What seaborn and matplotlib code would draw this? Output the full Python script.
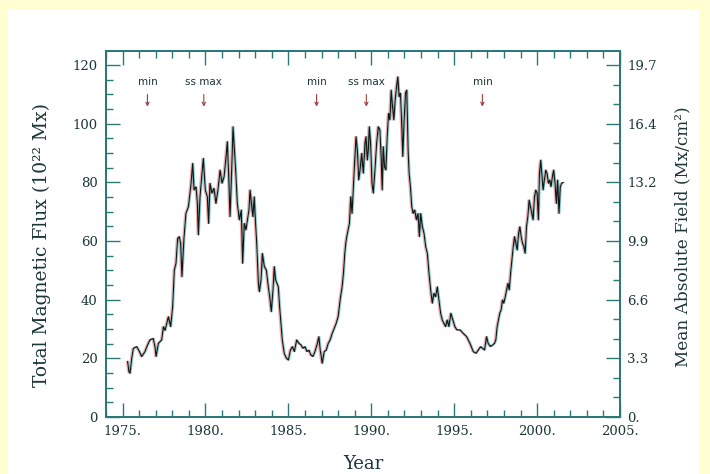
import matplotlib
matplotlib.use("Agg")
import matplotlib.pyplot as plt
import matplotlib.patheffects as pe
from matplotlib.patches import Rectangle
from matplotlib.ticker import MultipleLocator, FixedLocator
import pandas as pd
import seaborn as sns

# Total unsigned photospheric flux, 1975-2001 (units of 1e22 Mx)
years = [
    1975.30, 1975.38, 1975.45, 1975.55, 1975.65, 1975.85, 1976.00, 1976.15, 1976.35, 1976.50,
    1976.65, 1976.85, 1976.95, 1977.02, 1977.16, 1977.36, 1977.46, 1977.56, 1977.66, 1977.76,
    1977.90, 1978.02, 1978.12, 1978.22, 1978.32, 1978.42, 1978.50, 1978.58, 1978.70, 1978.82,
    1978.97, 1979.11, 1979.23, 1979.31, 1979.43, 1979.51, 1979.57, 1979.67, 1979.77, 1979.87,
    1979.99, 1980.11, 1980.19, 1980.27, 1980.39, 1980.51, 1980.63, 1980.75, 1980.88, 1981.00,
    1981.12, 1981.24, 1981.32, 1981.40, 1981.48, 1981.56, 1981.66, 1981.76, 1981.84, 1981.92,
    1982.04, 1982.16, 1982.24, 1982.34, 1982.44, 1982.62, 1982.69, 1982.77, 1982.86, 1982.94,
    1983.02, 1983.09, 1983.19, 1983.25, 1983.35, 1983.43, 1983.55, 1983.67, 1983.79, 1983.87,
    1983.97, 1984.07, 1984.15, 1984.23, 1984.31, 1984.39, 1984.47, 1984.55, 1984.63, 1984.75,
    1984.88, 1985.00, 1985.12, 1985.24, 1985.36, 1985.50, 1985.64, 1985.76, 1985.88, 1986.00,
    1986.12, 1986.24, 1986.36, 1986.48, 1986.60, 1986.72, 1986.84, 1986.92, 1987.04, 1987.16,
    1987.28, 1987.40, 1987.52, 1987.64, 1987.76, 1987.88, 1988.00, 1988.12, 1988.24, 1988.32,
    1988.40, 1988.46, 1988.52, 1988.60, 1988.68, 1988.76, 1988.84, 1988.92, 1989.00, 1989.08,
    1989.16, 1989.24, 1989.32, 1989.42, 1989.52, 1989.62, 1989.68, 1989.76, 1989.82, 1989.88,
    1989.96, 1990.04, 1990.12, 1990.22, 1990.32, 1990.42, 1990.52, 1990.60, 1990.66, 1990.72,
    1990.80, 1990.88, 1990.96, 1991.04, 1991.12, 1991.20, 1991.28, 1991.36, 1991.44, 1991.52,
    1991.60, 1991.68, 1991.76, 1991.84, 1991.90, 1991.98, 1992.06, 1992.14, 1992.22, 1992.28,
    1992.36, 1992.44, 1992.52, 1992.62, 1992.72, 1992.82, 1992.90, 1992.98, 1993.08, 1993.18,
    1993.28, 1993.38, 1993.48, 1993.58, 1993.68, 1993.78, 1993.88, 1993.98, 1994.08, 1994.18,
    1994.28, 1994.38, 1994.48, 1994.58, 1994.68, 1994.80, 1994.92, 1995.04, 1995.16, 1995.35,
    1995.55, 1995.75, 1995.95, 1996.15, 1996.31, 1996.45, 1996.59, 1996.71, 1996.83, 1996.95,
    1997.05, 1997.19, 1997.31, 1997.43, 1997.51, 1997.59, 1997.67, 1997.75, 1997.83, 1997.91,
    1997.99, 1998.08, 1998.16, 1998.24, 1998.32, 1998.40, 1998.48, 1998.56, 1998.64, 1998.72,
    1998.80, 1998.88, 1998.96, 1999.04, 1999.12, 1999.20, 1999.28, 1999.36, 1999.44, 1999.52,
    1999.60, 1999.68, 1999.76, 1999.84, 1999.92, 2000.00, 2000.08, 2000.14, 2000.22, 2000.30,
    2000.36, 2000.44, 2000.52, 2000.60, 2000.68, 2000.76, 2000.84, 2000.92, 2001.00, 2001.08,
    2001.16, 2001.24, 2001.32, 2001.40, 2001.48, 2001.58,
]
flux = [
    19.0, 15.5, 14.9, 20.0, 23.4, 24.0, 22.5, 20.6, 22.3, 24.5,
    26.3, 26.8, 24.0, 20.6, 25.1, 26.3, 30.8, 29.5, 31.9, 34.2,
    30.8, 37.6, 50.1, 52.4, 60.9, 61.5, 59.2, 47.8, 60.9, 69.4,
    71.7, 78.5, 86.5, 77.4, 78.5, 72.8, 62.1, 75.1, 81.9, 88.2,
    77.4, 75.1, 66.0, 79.7, 76.3, 78.0, 72.8, 77.4, 84.2, 79.7,
    81.9, 88.8, 93.9, 81.9, 68.3, 80.8, 99.0, 89.9, 81.9, 72.8,
    67.2, 70.6, 52.4, 66.0, 63.8, 70.6, 77.4, 72.8, 68.3, 75.1,
    66.0, 59.2, 45.6, 42.7, 46.7, 55.8, 51.3, 50.1, 44.4, 41.0,
    35.9, 43.3, 51.3, 46.7, 45.6, 44.4, 37.6, 31.9, 26.3, 21.7,
    20.0, 19.4, 22.8, 24.0, 22.3, 26.3, 25.1, 24.6, 23.4, 24.0,
    22.3, 22.8, 21.1, 20.6, 22.3, 24.6, 27.4, 22.8, 18.3, 22.3,
    22.8, 25.1, 26.3, 28.5, 30.2, 31.9, 34.2, 39.9, 44.4, 49.0,
    55.8, 59.2, 61.5, 63.8, 66.0, 75.1, 69.4, 78.5, 87.6, 95.6,
    91.0, 80.8, 84.2, 89.9, 83.1, 93.3, 95.6, 87.6, 91.0, 99.0,
    93.3, 79.7, 76.3, 84.2, 93.3, 99.0, 97.9, 87.6, 77.4, 92.2,
    85.3, 84.2, 95.6, 103.5, 101.3, 111.5, 105.8, 101.3, 108.1, 112.6,
    116.0, 109.2, 110.4, 99.0, 88.8, 101.3, 110.4, 111.5, 91.0, 83.1,
    78.5, 71.7, 69.4, 70.6, 67.2, 69.4, 61.5, 69.4, 64.9, 62.6,
    58.1, 55.8, 49.0, 43.3, 38.8, 42.2, 41.0, 44.4, 39.9, 35.4,
    33.1, 31.9, 30.8, 33.1, 30.8, 35.4, 33.1, 30.8, 29.7, 29.7,
    28.5, 27.4, 25.1, 22.3, 21.7, 22.8, 24.0, 23.4, 22.8, 27.4,
    25.1, 24.0, 24.5, 25.1, 26.3, 30.8, 33.1, 35.4, 36.5, 39.9,
    38.8, 41.0, 43.3, 45.6, 43.3, 49.0, 53.5, 58.1, 61.5, 59.2,
    56.9, 62.6, 64.9, 61.5, 59.2, 58.1, 55.8, 64.9, 68.3, 74.0,
    71.7, 69.4, 67.2, 75.1, 77.4, 76.3, 67.2, 83.1, 87.6, 81.9,
    77.4, 80.8, 84.2, 83.1, 79.7, 80.8, 78.5, 81.9, 84.2, 79.7,
    72.8, 80.8, 69.4, 78.5, 79.7, 80.0,
]

# Solar-cycle markers
event_years = [1976.5, 1979.9, 1986.7, 1989.7, 1996.7]
event_labels = ["min", "ss max", "min", "ss max", "min"]

# Axis ticks and labels
year_ticks = [1975, 1980, 1985, 1990, 1995, 2000, 2005]
year_labels = ["1975.", "1980.", "1985.", "1990.", "1995.", "2000.", "2005."]
flux_ticks = [0, 20, 40, 60, 80, 100, 120]
flux_labels = ["0", "20", "40", "60", "80", "100", "120"]
field_labels = ["0.", "3.3", "6.6", "9.9", "13.2", "16.4", "19.7"]
FIELD_PER_FLUX = 0.1645  # mean field (Mx/cm^2) per 1e22 Mx of total flux

df = pd.DataFrame({"Year": years, "Flux": flux})

sns.set_style("ticks")
plt.rcParams["font.family"] = ["DejaVu Serif"]

INK = "#1c3535"
FRAME = "#2c7777"

fig = plt.figure(figsize=(7.1, 4.74), dpi=100, facecolor="#ffffd2")
fig.patches.append(Rectangle((8 / 710, 0), 691 / 710, 464 / 474,
                             transform=fig.transFigure, facecolor="white",
                             edgecolor="none", zorder=-10))

ax = fig.add_axes([106 / 710, 57 / 474, 514 / 710, 366 / 474])
ax.set_facecolor("white")

fringe = [
    pe.SimpleLineShadow(offset=(-0.9, 0), shadow_color="#e04848", alpha=0.45),
    pe.SimpleLineShadow(offset=(0.7, 0), shadow_color="#1aa0a0", alpha=0.5),
    pe.Normal(),
]
sns.lineplot(data=df, x="Year", y="Flux", ax=ax, color="#101818",
             linewidth=0.85, estimator=None, sort=False, legend=False)
for ln in ax.lines:
    ln.set_path_effects(fringe)

YMAX = 124.8
ax.set_xlim(1974, 2005)
ax.set_ylim(0, YMAX)
ax.set_xlabel("")
ax.set_ylabel("")

ax.xaxis.set_major_locator(FixedLocator(year_ticks))
ax.set_xticklabels(year_labels)
ax.xaxis.set_minor_locator(MultipleLocator(1))
ax.yaxis.set_major_locator(FixedLocator(flux_ticks))
ax.set_yticklabels(flux_labels)
ax.yaxis.set_minor_locator(MultipleLocator(5))

ax.tick_params(axis="x", which="both", direction="in", top=True, bottom=True,
               color=FRAME, width=1.0, labelcolor=INK, labelsize=9.5, pad=6)
ax.tick_params(axis="y", which="both", direction="in", left=True, right=False,
               color=FRAME, width=1.0, labelcolor=INK, labelsize=9.5, pad=6)
ax.tick_params(which="major", length=10)
ax.tick_params(which="minor", length=5)

ax2 = ax.twinx()
ax2.set_ylim(0, YMAX * FIELD_PER_FLUX)
ax2.yaxis.set_major_locator(FixedLocator([f * FIELD_PER_FLUX for f in flux_ticks]))
ax2.set_yticklabels(field_labels)
ax2.yaxis.set_minor_locator(MultipleLocator(20 * FIELD_PER_FLUX / 3))
ax2.tick_params(axis="y", which="both", direction="in", right=True, left=False,
                color=FRAME, width=1.0, labelcolor=INK, labelsize=9.5, pad=5)
ax2.tick_params(which="major", length=10)
ax2.tick_params(which="minor", length=5)

for a in (ax, ax2):
    for sp in a.spines.values():
        sp.set_visible(True)
        sp.set_color(FRAME)
        sp.set_linewidth(1.4)

for yr, lab in zip(event_years, event_labels):
    ax.text(yr, 113.2, lab, ha="center", va="baseline", fontsize=7.5,
            family="DejaVu Sans", color=INK)
    ax.annotate("", xy=(yr, 105.8), xytext=(yr, 110.0),
                arrowprops=dict(arrowstyle="->", color="#a04040", lw=0.8,
                                shrinkA=0, shrinkB=0, mutation_scale=6))

fig.text(42 / 710, 1 - 245 / 474, "Total Magnetic Flux (10²² Mx)",
         rotation=90, ha="center", va="center", fontsize=13.5, color=INK)
fig.text(683 / 710, 1 - 237 / 474, "Mean Absolute Field (Mx/cm²)",
         rotation=90, ha="center", va="center", fontsize=12.2, color=INK)
fig.text(363 / 710, 1 - 464 / 474, "Year", ha="center", va="center",
         fontsize=13, color=INK)

fig.savefig("out.png", dpi=100, facecolor=fig.get_facecolor())
